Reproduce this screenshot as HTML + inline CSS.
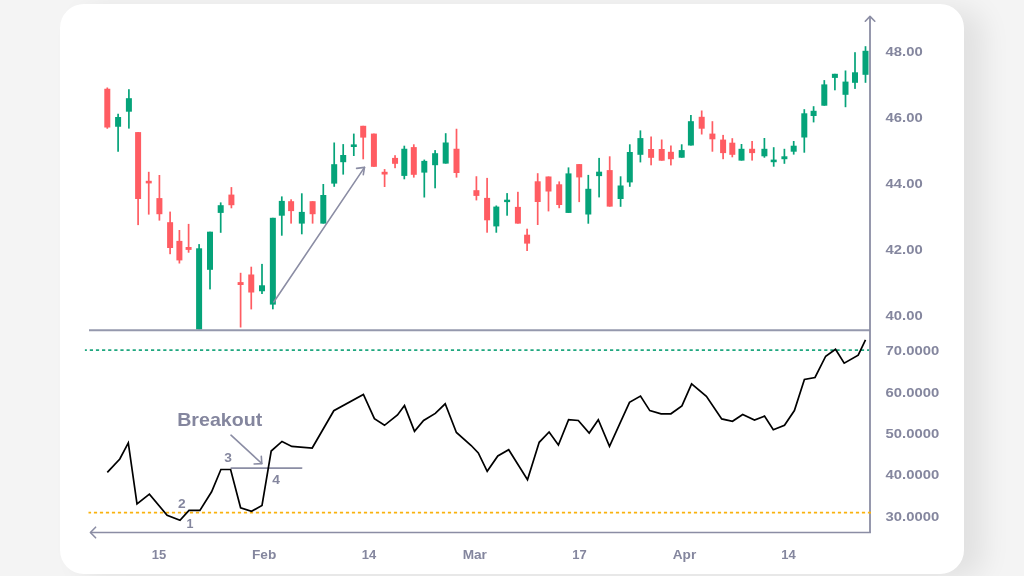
<!DOCTYPE html>
<html><head><meta charset="utf-8"><title>RSI Breakout</title>
<style>
html,body{margin:0;padding:0;}
body{width:1024px;height:576px;overflow:hidden;background:#f4f4f4;position:relative;font-family:"Liberation Sans",Arial,sans-serif;}
.card{position:absolute;left:59.7px;top:3.7px;width:904.3px;height:570.2px;border-radius:24px;background:#fff;box-shadow:20px 5px 28px rgba(0,0,0,0.08);}
svg{position:absolute;left:0;top:0;will-change:transform;}
svg text{font-family:"Liberation Sans",Arial,sans-serif;font-weight:700;fill:#84869e;}
</style></head>
<body>
<div class="card"></div>
<svg width="1024" height="576" viewBox="0 0 1024 576">
<g id="candles">
<rect x="106.45" y="87.5" width="1.7" height="41.25" fill="#ff5c62"/><rect x="104.3" y="88.75" width="6" height="38.75" fill="#ff5c62"/>
<rect x="117.25" y="113.75" width="1.7" height="38" fill="#05a379"/><rect x="115.1" y="117" width="6" height="9.75" fill="#05a379"/>
<rect x="128.05" y="89.2" width="1.7" height="39.4" fill="#05a379"/><rect x="125.9" y="98.2" width="6" height="13.5" fill="#05a379"/>
<rect x="137.25" y="132.1" width="1.7" height="93" fill="#ff5c62"/><rect x="135.1" y="132.1" width="6" height="66.9" fill="#ff5c62"/>
<rect x="147.9" y="171.8" width="1.7" height="42.8" fill="#ff5c62"/><rect x="145.75" y="180.8" width="6" height="2.6" fill="#ff5c62"/>
<rect x="158.55" y="175" width="1.7" height="45.6" fill="#ff5c62"/><rect x="156.4" y="198.1" width="6" height="16.1" fill="#ff5c62"/>
<rect x="169.25" y="211.6" width="1.7" height="42.6" fill="#ff5c62"/><rect x="167.1" y="222.2" width="6" height="25.8" fill="#ff5c62"/>
<rect x="178.55" y="230" width="1.7" height="33.5" fill="#ff5c62"/><rect x="176.4" y="240.9" width="6" height="19.5" fill="#ff5c62"/>
<rect x="187.75" y="223.9" width="1.7" height="28.8" fill="#ff5c62"/><rect x="185.6" y="247" width="6" height="2.9" fill="#ff5c62"/>
<rect x="198.25" y="244.1" width="1.7" height="85.4" fill="#05a379"/><rect x="196.1" y="248.3" width="6" height="81.2" fill="#05a379"/>
<rect x="209.15" y="231.7" width="1.7" height="57.7" fill="#05a379"/><rect x="207" y="231.7" width="6" height="38.1" fill="#05a379"/>
<rect x="219.85" y="202.4" width="1.7" height="30.4" fill="#05a379"/><rect x="217.7" y="205.2" width="6" height="7.7" fill="#05a379"/>
<rect x="230.55" y="187.1" width="1.7" height="21.2" fill="#ff5c62"/><rect x="228.4" y="194.6" width="6" height="10.6" fill="#ff5c62"/>
<rect x="239.75" y="272.8" width="1.7" height="54.7" fill="#ff5c62"/><rect x="237.6" y="282.1" width="6" height="2.9" fill="#ff5c62"/>
<rect x="250.4" y="266.7" width="1.7" height="42.7" fill="#ff5c62"/><rect x="248.25" y="274.5" width="6" height="18" fill="#ff5c62"/>
<rect x="261.15" y="263.9" width="1.7" height="30.1" fill="#05a379"/><rect x="259" y="285.3" width="6" height="5.95" fill="#05a379"/>
<rect x="272" y="217.8" width="1.7" height="91.5" fill="#05a379"/><rect x="269.85" y="217.8" width="6" height="86.8" fill="#05a379"/>
<rect x="280.95" y="196.4" width="1.7" height="39.3" fill="#05a379"/><rect x="278.8" y="200.9" width="6" height="14.8" fill="#05a379"/>
<rect x="290.25" y="199.3" width="1.7" height="24.3" fill="#ff5c62"/><rect x="288.1" y="201.2" width="6" height="9.9" fill="#ff5c62"/>
<rect x="300.95" y="193.3" width="1.7" height="41" fill="#05a379"/><rect x="298.8" y="211.9" width="6" height="11.7" fill="#05a379"/>
<rect x="311.75" y="201.2" width="1.7" height="22.4" fill="#ff5c62"/><rect x="309.6" y="201.2" width="6" height="13" fill="#ff5c62"/>
<rect x="322.45" y="184" width="1.7" height="39.6" fill="#05a379"/><rect x="320.3" y="195" width="6" height="28.6" fill="#05a379"/>
<rect x="333.35" y="142.5" width="1.7" height="44.3" fill="#05a379"/><rect x="331.2" y="164.2" width="6" height="19.4" fill="#05a379"/>
<rect x="342.35" y="144.1" width="1.7" height="30.5" fill="#05a379"/><rect x="340.2" y="155" width="6" height="7.2" fill="#05a379"/>
<rect x="352.95" y="133.6" width="1.7" height="22.4" fill="#05a379"/><rect x="350.8" y="144.4" width="6" height="2.6" fill="#05a379"/>
<rect x="362.35" y="125.8" width="1.7" height="33.5" fill="#ff5c62"/><rect x="360.2" y="125.8" width="6" height="11.8" fill="#ff5c62"/>
<rect x="373.05" y="133.6" width="1.7" height="33.2" fill="#ff5c62"/><rect x="370.9" y="133.6" width="6" height="33.2" fill="#ff5c62"/>
<rect x="383.75" y="169.1" width="1.7" height="17.9" fill="#ff5c62"/><rect x="381.6" y="171.8" width="6" height="2.7" fill="#ff5c62"/>
<rect x="394.2" y="155.2" width="1.7" height="13" fill="#ff5c62"/><rect x="392.05" y="157.9" width="6" height="5.9" fill="#ff5c62"/>
<rect x="403.45" y="145.7" width="1.7" height="33.6" fill="#05a379"/><rect x="401.3" y="148.75" width="6" height="27.15" fill="#05a379"/>
<rect x="412.95" y="144.3" width="1.7" height="33.3" fill="#ff5c62"/><rect x="410.8" y="147.1" width="6" height="27.7" fill="#ff5c62"/>
<rect x="423.45" y="159.6" width="1.7" height="37.9" fill="#05a379"/><rect x="421.3" y="160.9" width="6" height="11.7" fill="#05a379"/>
<rect x="434.25" y="150.1" width="1.7" height="38.2" fill="#05a379"/><rect x="432.1" y="153.2" width="6" height="12" fill="#05a379"/>
<rect x="444.85" y="133.2" width="1.7" height="30.4" fill="#05a379"/><rect x="442.7" y="142.5" width="6" height="21.1" fill="#05a379"/>
<rect x="455.65" y="128.75" width="1.7" height="48.85" fill="#ff5c62"/><rect x="453.5" y="148.75" width="6" height="24.25" fill="#ff5c62"/>
<rect x="475.55" y="176.25" width="1.7" height="24.15" fill="#ff5c62"/><rect x="473.4" y="190.2" width="6" height="5.7" fill="#ff5c62"/>
<rect x="486.25" y="177.9" width="1.7" height="54.8" fill="#ff5c62"/><rect x="484.1" y="197.9" width="6" height="22.4" fill="#ff5c62"/>
<rect x="495.45" y="205.5" width="1.7" height="27.2" fill="#05a379"/><rect x="493.3" y="206.6" width="6" height="19.8" fill="#05a379"/>
<rect x="506.25" y="193.1" width="1.7" height="22.6" fill="#05a379"/><rect x="504.1" y="199.7" width="6" height="2.4" fill="#05a379"/>
<rect x="517.05" y="191.8" width="1.7" height="31.8" fill="#ff5c62"/><rect x="514.9" y="206.9" width="6" height="16.7" fill="#ff5c62"/>
<rect x="526.25" y="228.7" width="1.7" height="22.3" fill="#ff5c62"/><rect x="524.1" y="234.7" width="6" height="8.9" fill="#ff5c62"/>
<rect x="536.85" y="173.2" width="1.7" height="51.8" fill="#ff5c62"/><rect x="534.7" y="181.3" width="6" height="20.7" fill="#ff5c62"/>
<rect x="547.65" y="176.5" width="1.7" height="34.9" fill="#ff5c62"/><rect x="545.5" y="176.5" width="6" height="15" fill="#ff5c62"/>
<rect x="558.35" y="181.4" width="1.7" height="26.8" fill="#ff5c62"/><rect x="556.2" y="184.3" width="6" height="20.7" fill="#ff5c62"/>
<rect x="567.65" y="167.4" width="1.7" height="45.5" fill="#05a379"/><rect x="565.5" y="173.4" width="6" height="39.5" fill="#05a379"/>
<rect x="578.35" y="164.1" width="1.7" height="38" fill="#ff5c62"/><rect x="576.2" y="164.1" width="6" height="13.3" fill="#ff5c62"/>
<rect x="587.45" y="174.9" width="1.7" height="48.8" fill="#05a379"/><rect x="585.3" y="188.8" width="6" height="25.7" fill="#05a379"/>
<rect x="598.25" y="157.9" width="1.7" height="39.5" fill="#05a379"/><rect x="596.1" y="171.7" width="6" height="4.4" fill="#05a379"/>
<rect x="608.85" y="156.3" width="1.7" height="50.3" fill="#ff5c62"/><rect x="606.7" y="170.1" width="6" height="36.5" fill="#ff5c62"/>
<rect x="619.75" y="176.3" width="1.7" height="30.5" fill="#05a379"/><rect x="617.6" y="185.5" width="6" height="13.5" fill="#05a379"/>
<rect x="628.95" y="144.3" width="1.7" height="42.5" fill="#05a379"/><rect x="626.8" y="152" width="6" height="30.4" fill="#05a379"/>
<rect x="639.55" y="130.4" width="1.7" height="32" fill="#05a379"/><rect x="637.4" y="138.1" width="6" height="16.7" fill="#05a379"/>
<rect x="650.25" y="136.5" width="1.7" height="28.8" fill="#ff5c62"/><rect x="648.1" y="149" width="6" height="8.8" fill="#ff5c62"/>
<rect x="660.85" y="139.5" width="1.7" height="21.2" fill="#ff5c62"/><rect x="658.7" y="149" width="6" height="11.7" fill="#ff5c62"/>
<rect x="670.05" y="145.5" width="1.7" height="19.9" fill="#ff5c62"/><rect x="667.9" y="151.8" width="6" height="7.4" fill="#ff5c62"/>
<rect x="680.85" y="144.3" width="1.7" height="13.4" fill="#05a379"/><rect x="678.7" y="150.1" width="6" height="7.6" fill="#05a379"/>
<rect x="690.05" y="115" width="1.7" height="30.5" fill="#05a379"/><rect x="687.9" y="121.2" width="6" height="24.3" fill="#05a379"/>
<rect x="700.85" y="110.5" width="1.7" height="24" fill="#ff5c62"/><rect x="698.7" y="116.8" width="6" height="11.9" fill="#ff5c62"/>
<rect x="711.55" y="121.2" width="1.7" height="30.5" fill="#ff5c62"/><rect x="709.4" y="133.6" width="6" height="5.7" fill="#ff5c62"/>
<rect x="722.25" y="134.9" width="1.7" height="24.3" fill="#ff5c62"/><rect x="720.1" y="139.6" width="6" height="13.5" fill="#ff5c62"/>
<rect x="731.45" y="138.2" width="1.7" height="19.1" fill="#ff5c62"/><rect x="729.3" y="142.7" width="6" height="12.1" fill="#ff5c62"/>
<rect x="740.65" y="144" width="1.7" height="16.6" fill="#05a379"/><rect x="738.5" y="148.8" width="6" height="11.8" fill="#05a379"/>
<rect x="751.25" y="141" width="1.7" height="19.6" fill="#ff5c62"/><rect x="749.1" y="148.8" width="6" height="4.3" fill="#ff5c62"/>
<rect x="763.55" y="138" width="1.7" height="19.7" fill="#05a379"/><rect x="761.4" y="148.8" width="6" height="7.5" fill="#05a379"/>
<rect x="772.85" y="147.2" width="1.7" height="19.5" fill="#05a379"/><rect x="770.7" y="159.6" width="6" height="2.6" fill="#05a379"/>
<rect x="783.55" y="148.8" width="1.7" height="15" fill="#05a379"/><rect x="781.4" y="156.3" width="6" height="2.9" fill="#05a379"/>
<rect x="792.85" y="141" width="1.7" height="13.6" fill="#05a379"/><rect x="790.7" y="145.7" width="6" height="6" fill="#05a379"/>
<rect x="803.45" y="109.2" width="1.7" height="43.5" fill="#05a379"/><rect x="801.3" y="113.3" width="6" height="24.2" fill="#05a379"/>
<rect x="812.75" y="106.2" width="1.7" height="16.2" fill="#05a379"/><rect x="810.6" y="110.8" width="6" height="5.2" fill="#05a379"/>
<rect x="823.45" y="80.1" width="1.7" height="25.6" fill="#05a379"/><rect x="821.3" y="84.4" width="6" height="21.3" fill="#05a379"/>
<rect x="834.05" y="73.8" width="1.7" height="16.5" fill="#05a379"/><rect x="831.9" y="73.8" width="6" height="4.1" fill="#05a379"/>
<rect x="844.65" y="70.5" width="1.7" height="36.7" fill="#05a379"/><rect x="842.5" y="81.6" width="6" height="13.2" fill="#05a379"/>
<rect x="854.15" y="52.2" width="1.7" height="36.7" fill="#05a379"/><rect x="852" y="72.3" width="6" height="10.5" fill="#05a379"/>
<rect x="864.65" y="46.2" width="1.7" height="36.6" fill="#05a379"/><rect x="862.5" y="50.8" width="6" height="24" fill="#05a379"/>
</g>
<!-- trend arrow -->
<g stroke="#8b8da4" stroke-width="1.6" fill="none" stroke-linecap="round" stroke-linejoin="round">
<line x1="273.8" y1="302" x2="364.5" y2="167.4"/>
<polyline points="356.6,168.4 364.5,167.4 363.3,174.6"/>
</g>
<!-- axes -->
<g stroke="#8b8da4" fill="none">
<line x1="89" y1="330.2" x2="870" y2="330.2" stroke-width="1.9" stroke="#9598ad"/>
<line x1="870" y1="16.5" x2="870" y2="532.5" stroke-width="1.8"/>
<polyline points="865.3,21.2 870,16.4 874.8,21.2" stroke-width="1.6" stroke-linecap="round" stroke-linejoin="round"/>
<line x1="90.5" y1="532.5" x2="870.9" y2="532.5" stroke-width="1.6"/>
<polyline points="95.6,527.2 90.4,532.5 95.6,537.8" stroke-width="1.6" stroke-linecap="round" stroke-linejoin="round"/>
</g>
<!-- RSI levels -->
<line x1="84.9" y1="350.2" x2="869" y2="350.2" stroke="#1fa77f" stroke-width="1.8" stroke-dasharray="3.2 2.92" stroke-dashoffset="1.22"/>
<line x1="88.5" y1="512.6" x2="871" y2="512.6" stroke="#f9b20e" stroke-width="1.7" stroke-dasharray="3.2 2.8" stroke-dashoffset="0.6"/>
<!-- breakout annotation -->
<g stroke="#8b8da4" stroke-width="1.6" fill="none" stroke-linecap="round" stroke-linejoin="round">
<line x1="231.2" y1="468.1" x2="301.7" y2="468.1"/>
<line x1="231" y1="435.2" x2="261.8" y2="463.5"/>
<polyline points="254.1,464 261.8,463.6 261.3,456.3"/>
</g>
<polyline points="107.3,472.3 119.8,459 128.3,442.9 137,503.9 149.4,494.1 167.1,515.3 180,520.3 189,510.4 199.9,510.4 211.6,491.8 220.9,469.5 230.6,469.5 240.6,507.8 251.5,511.3 262,505.5 271.2,451 282,441.4 291.8,446.4 312.2,448 333.8,410.7 363.4,394.5 374.4,418.7 384.5,425.3 397.5,415 404.5,405.6 414.5,431.4 423.6,420.5 435.3,413.4 445.2,403.8 456.4,432.5 471.2,445.5 478.3,453 487.2,471.3 497.8,455.9 508.7,449.7 527.5,479.8 539.2,442.3 549.1,432 558.4,445 568.6,419.7 578.3,420.5 589.2,433 598.3,419.7 609.5,446.3 619.7,423.9 629.5,402.3 640.5,396.1 649.8,410.6 661.1,413.8 670.9,413.8 681.9,405.9 691.6,383.8 706.4,396.3 721.7,418.9 732.5,421.3 742.7,414.5 754.5,420 764.5,416.1 773.3,429.8 784.5,425.2 794.4,410.6 804.4,379.4 815,377.5 825.7,356.2 835.5,349.2 844.2,363.2 858.2,355.2 865.5,339.8" fill="none" stroke="#000" stroke-width="1.7" stroke-linejoin="miter" stroke-miterlimit="4"/>
<text x="177.2" y="426" font-size="18.5" textLength="85" lengthAdjust="spacingAndGlyphs">Breakout</text>
<text x="178.08" y="508" font-size="12.5" textLength="7.65" lengthAdjust="spacingAndGlyphs">2</text>
<text x="186.62" y="527.8" font-size="12.5" textLength="6.95" lengthAdjust="spacingAndGlyphs">1</text>
<text x="224.18" y="461.9" font-size="12.5" textLength="7.65" lengthAdjust="spacingAndGlyphs">3</text>
<text x="272.18" y="483.6" font-size="12.5" textLength="7.65" lengthAdjust="spacingAndGlyphs">4</text>
<text x="885.6" y="56.4" font-size="13" textLength="37.09" lengthAdjust="spacingAndGlyphs">48.00</text>
<text x="885.6" y="122.2" font-size="13" textLength="37.09" lengthAdjust="spacingAndGlyphs">46.00</text>
<text x="885.6" y="188" font-size="13" textLength="37.09" lengthAdjust="spacingAndGlyphs">44.00</text>
<text x="885.6" y="253.9" font-size="13" textLength="37.09" lengthAdjust="spacingAndGlyphs">42.00</text>
<text x="885.6" y="319.7" font-size="13" textLength="37.09" lengthAdjust="spacingAndGlyphs">40.00</text>
<text x="885.6" y="355.2" font-size="13" textLength="53.57" lengthAdjust="spacingAndGlyphs">70.0000</text>
<text x="885.6" y="396.5" font-size="13" textLength="53.57" lengthAdjust="spacingAndGlyphs">60.0000</text>
<text x="885.6" y="438" font-size="13" textLength="53.57" lengthAdjust="spacingAndGlyphs">50.0000</text>
<text x="885.6" y="479.4" font-size="13" textLength="53.57" lengthAdjust="spacingAndGlyphs">40.0000</text>
<text x="885.6" y="520.5" font-size="13" textLength="53.57" lengthAdjust="spacingAndGlyphs">30.0000</text>
<text x="151.77" y="558.8" font-size="13" textLength="14.46" lengthAdjust="spacingAndGlyphs">15</text>
<text x="251.97" y="558.8" font-size="13" textLength="24.27" lengthAdjust="spacingAndGlyphs">Feb</text>
<text x="361.67" y="558.8" font-size="13" textLength="14.46" lengthAdjust="spacingAndGlyphs">14</text>
<text x="462.66" y="558.8" font-size="13" textLength="24.27" lengthAdjust="spacingAndGlyphs">Mar</text>
<text x="572.27" y="558.8" font-size="13" textLength="14.46" lengthAdjust="spacingAndGlyphs">17</text>
<text x="672.75" y="558.8" font-size="13" textLength="23.51" lengthAdjust="spacingAndGlyphs">Apr</text>
<text x="781.17" y="558.8" font-size="13" textLength="14.46" lengthAdjust="spacingAndGlyphs">14</text>
</svg>
</body></html>
